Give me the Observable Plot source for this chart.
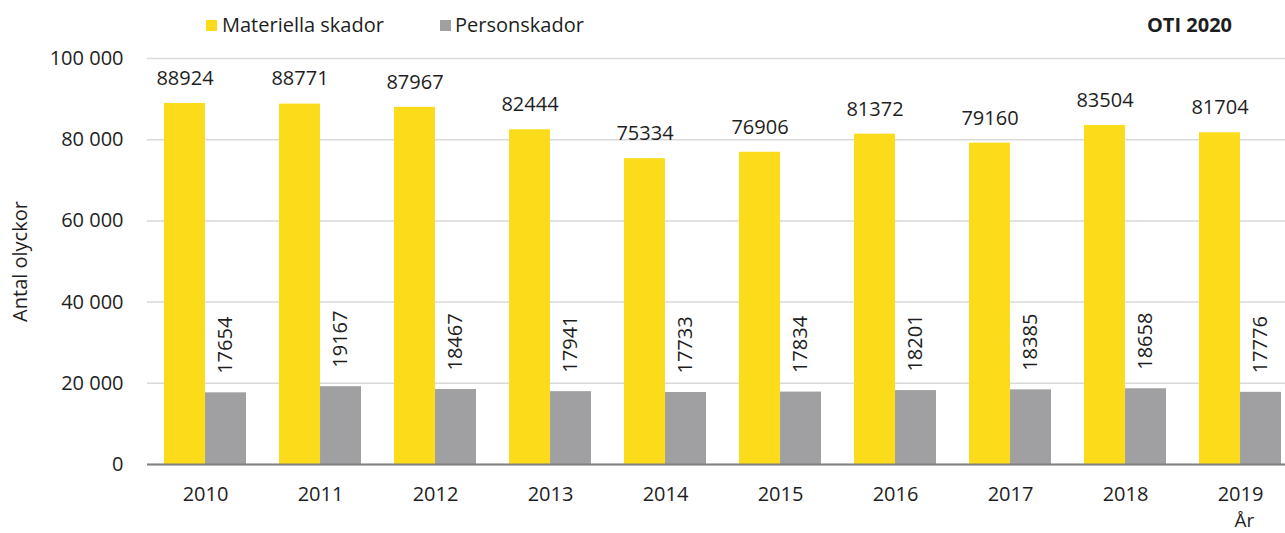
<!DOCTYPE html>
<html>
<head>
<meta charset="utf-8">
<script src="https://cdn.jsdelivr.net/npm/d3@7"></script>
<script src="https://cdn.jsdelivr.net/npm/@observablehq/plot@0.6"></script>
<style>
  html, body { margin: 0; padding: 0; background: #fff; overflow: hidden; }
  body { width: 1285px; height: 533px; font-family: "Open Sans", sans-serif; color: #1e1e1e; }
  #header { position: relative; height: 40px; width: 1285px; font-size: 20px; line-height: 24px; }
  .item { position: absolute; top: 13px; white-space: nowrap; }
  .sw { position: absolute; width: 11px; height: 11px; top: 20px; }
  #oti { position: absolute; top: 13px; right: 53px; font-weight: bold; }
  #chart { width: 1298px; }
  #chart svg { display: block; max-width: none !important; width: 1298px !important; }
</style>
</head>
<body>
<div id="header"></div>
<div id="chart"></div>
<script>
const years = ["2010", "2011", "2012", "2013", "2014", "2015", "2016", "2017", "2018", "2019"];
const materiella = [88924, 88771, 87967, 82444, 75334, 76906, 81372, 79160, 83504, 81704];
const person = [17654, 19167, 18467, 17941, 17733, 17834, 18201, 18385, 18658, 17776];
const seriesNames = ["Materiella skador", "Personskador"];
const seriesColors = ["#fcdc1a", "#a0a0a2"];
const yTicks = [0, 20000, 40000, 60000, 80000, 100000];
const yLabel = "Antal olyckor";
const xLabel = "År";
const badge = "OTI 2020";

// header: legend + badge
const header = document.getElementById("header");
const legendPos = [[206, 222], [440, 455]];
seriesNames.forEach((name, i) => {
  const sw = document.createElement("div");
  sw.className = "sw";
  sw.style.left = legendPos[i][0] + "px";
  sw.style.background = seriesColors[i];
  header.appendChild(sw);
  const t = document.createElement("div");
  t.className = "item";
  t.style.left = legendPos[i][1] + "px";
  t.textContent = name;
  header.appendChild(t);
});
const b = document.createElement("div");
b.id = "oti";
b.textContent = badge;
header.appendChild(b);

const matRows = years.map((y, i) => ({year: y, value: materiella[i]}));
const perRows = years.map((y, i) => ({year: y, value: person[i]}));

const W = 1298, ML = 147, MR = 0;
const pIn = 0.287, pOut = 0.1435;
const step = (W - ML - MR) / (years.length - pIn + 2 * pOut);
const half = step * (1 - pIn) / 2;

const fmt = d => d3.format(",")(d).replace(/,/g, " ");

const chart = Plot.plot({
  width: W,
  height: 493,
  marginLeft: ML,
  marginRight: MR,
  marginTop: 18,
  marginBottom: 69,
  style: {fontFamily: "'Open Sans', sans-serif", fontSize: "20px", color: "#1e1e1e", background: "#fff", overflow: "visible"},
  x: {domain: years, paddingInner: pIn, paddingOuter: pOut, align: 0.5},
  y: {domain: [0, 100000]},
  marks: [
    Plot.gridY(yTicks, {stroke: "#d9d9d9", strokeOpacity: 1, strokeWidth: 1.5}),
    Plot.barY(matRows, {x: "year", y: "value", fill: seriesColors[0], insetRight: half}),
    Plot.barY(perRows, {x: "year", y: "value", fill: seriesColors[1], insetLeft: half}),
    Plot.ruleY([0], {stroke: "#7f7f7f", strokeWidth: 2}),
    Plot.text(matRows, {x: "year", y: "value", text: d => String(d.value), dx: -half / 2, dy: -25, fill: "#1e1e1e", fontSize: 20}),
    Plot.text(perRows, {x: "year", y: "value", text: d => String(d.value), dx: half / 2, dy: -19, rotate: -90, textAnchor: "start", fill: "#1e1e1e", fontSize: 20}),
    Plot.text([xLabel], {x: [years[years.length - 1]], frameAnchor: "bottom", dx: 4, dy: 62, fill: "#1e1e1e", fontSize: 19}),
    Plot.axisX({tickSize: 0, tickPadding: 22, label: null, fontSize: 20}),
    Plot.axisY(yTicks, {tickSize: 0, tickPadding: 24, tickFormat: fmt, label: yLabel, labelAnchor: "center", labelOffset: 135, labelArrow: "none", fontSize: 20})
  ]
});
document.getElementById("chart").appendChild(chart);
</script>
</body>
</html>
